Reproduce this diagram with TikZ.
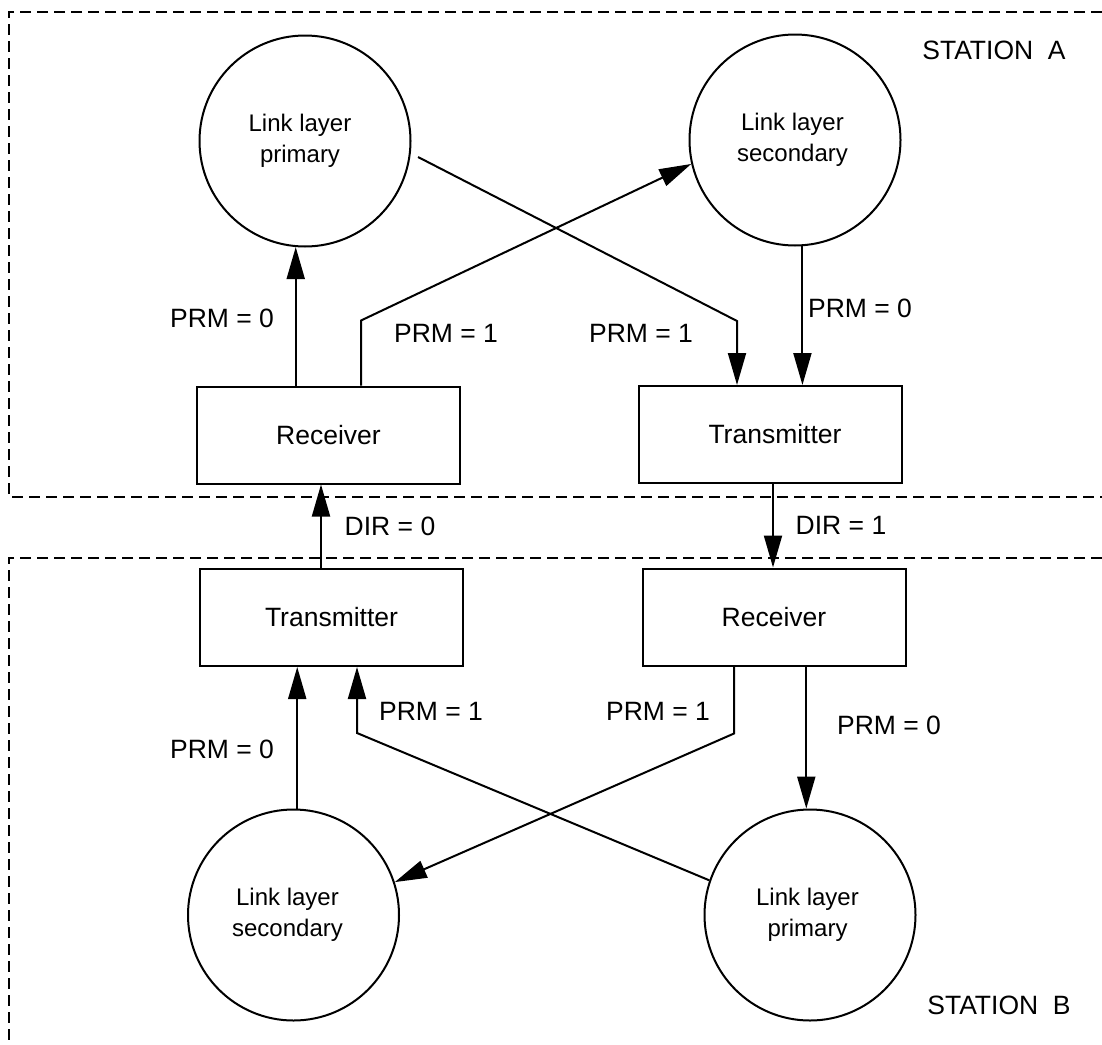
\documentclass[tikz,border=0pt]{standalone}
\usepackage{fontspec}
\setmainfont{Liberation Sans}
\usetikzlibrary{arrows.meta,calc}
\begin{document}
\begin{tikzpicture}[x=1pt,y=-1pt,
 lbl/.style={font=\fontsize{26.5}{30}\selectfont, inner sep=0pt},
 boxnode/.style={draw, line width=2pt, minimum width=263pt, minimum height=97pt, inner sep=0pt, font=\fontsize{26.5}{30}\selectfont},
 layer/.style={draw, circle, line width=2pt, minimum size=211pt, inner sep=0pt, font=\fontsize{24}{31}\selectfont, align=center},
 arr/.style={line width=2pt, -{Triangle[length=32pt,width=18pt]}},
 frame/.style={line width=1.5pt, dash pattern=on 11pt off 6pt}]
\useasboundingbox (0,0) rectangle (1102,1044);
% station frames
\draw[frame] (1102,12) -- (9,12) -- (9,497) -- (1102,497);
\draw[frame] (1102,558) -- (9,558) -- (9,1044);
% nodes
\node[layer] (priA) at (305,141) {Link layer\hspace*{10pt}\\primary\hspace*{10pt}};
\node[layer] (secA) at (795,140) {Link layer\hspace*{5pt}\\secondary\hspace*{5pt}};
\node[boxnode] (recA) at (328.5,435) {Receiver};
\node[boxnode] (txA) at (770.5,434.5) {\hspace{9pt}Transmitter};
\node[boxnode] (txB) at (331.5,617.5) {Transmitter\hspace{21pt}};
\node[boxnode] (recB) at (774,617) {Receiver};
\node[layer] (secB) at (293.5,915) {Link layer\hspace*{12pt}\\secondary\hspace*{12pt}};
\node[layer] (priB) at (810,915) {Link layer\hspace*{5pt}\\primary\hspace*{5pt}};
% labels
\node[lbl] (l1) at (222,318) {PRM = 0};
\node[lbl] (l2) at (446,333) {PRM = 1};
\node[lbl] (l3) at (641,333) {PRM = 1};
\node[lbl] (l4) at (860,308) {PRM = 0};
\node[lbl] (l5) at (390,526) {DIR = 0};
\node[lbl] (l6) at (841,525) {DIR = 1};
\node[lbl] (l7) at (222,749) {PRM = 0};
\node[lbl] (l8) at (431,711) {PRM = 1};
\node[lbl] (l9) at (658,711) {PRM = 1};
\node[lbl] (l10) at (889,725) {PRM = 0};
\node[lbl] (sa) at (994,50) {STATION\ \ A};
\node[lbl] (sb) at (999,1005) {STATION\ \ B};
% station A connectors
\draw[arr] (recA.north -| priA.265) -- (priA.265);
\coordinate (aA) at ([xshift=32.5pt]recA.north);
\draw[arr] (aA) -- ($(aA)+(0,-65)$) -- (secA.193);
\coordinate (bA) at ([xshift=-33.5pt]txA.north);
\draw[arr] ($(priA.center)+(113,16)$) -- ($(bA)+(0,-64)$) -- (bA);
\draw[arr] (secA.-86) -- (txA.north -| secA.-86);
% between stations
\coordinate (d0) at ([xshift=-10.5pt]txB.north);
\draw[arr] (d0) -- (d0 |- recA.south);
\coordinate (d1) at ([xshift=2.5pt]txA.south);
\draw[arr] (d1) -- (d1 |- recB.north);
% station B connectors
\draw[arr] (secB.88) -- (txB.south -| secB.88);
\coordinate (bB) at ([xshift=25.5pt]txB.south);
\draw[arr] (priB.161) -- ($(bB)+(0,66)$) -- (bB);
\coordinate (cB) at ([xshift=-40pt]recB.south);
\draw[arr] (cB) -- ($(cB)+(0,67)$) -- (secB.18);
\draw[arr] (recB.south -| priB.92) -- (priB.92);
\end{tikzpicture}
\end{document}
